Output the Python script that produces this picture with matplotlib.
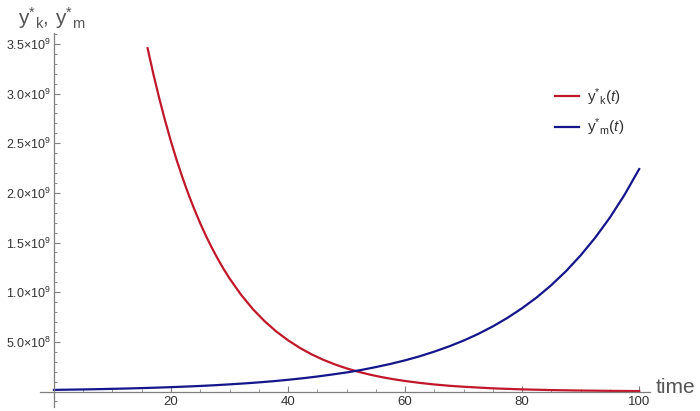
import matplotlib

matplotlib.use("Agg")

import matplotlib.pyplot as plt
from matplotlib.ticker import FuncFormatter, MultipleLocator

# values (units of 1e9)
t_blue = [0, 2.5, 5, 7.5, 10, 12.5, 15, 17.5, 20, 22.5, 25, 27.5, 30, 32.5, 35, 37.5, 40,
          42.5, 45, 47.5, 50, 52.5, 55, 57.5, 60, 62.5, 65, 67.5, 70, 72.5, 75, 77.5, 80,
          82.5, 85, 87.5, 90, 92.5, 95, 97.5, 100]
y_blue = [0.0165, 0.0187, 0.021, 0.0238, 0.027, 0.0305, 0.0345, 0.039, 0.044, 0.0498, 0.056,
          0.0635, 0.072, 0.0815, 0.092, 0.104, 0.118, 0.1335, 0.151, 0.171, 0.192, 0.217,
          0.246, 0.278, 0.314, 0.355, 0.402, 0.454, 0.513, 0.580, 0.656, 0.742, 0.839, 0.948,
          1.072, 1.212, 1.371, 1.550, 1.752, 1.981, 2.24]

t_red = [16, 17, 18, 19, 20, 21, 22, 23, 24, 25, 26, 27, 28, 29, 30, 32, 34, 36, 38, 40, 42,
         44, 46, 48, 50, 52, 54, 56, 58, 60, 62.5, 65, 67.5, 70, 75, 80, 85, 90, 95, 100]
y_red = [3.457, 3.194, 2.951, 2.726, 2.517, 2.325, 2.148, 1.984, 1.833, 1.693, 1.564, 1.445,
         1.335, 1.233, 1.139, 0.972, 0.829, 0.708, 0.604, 0.516, 0.440, 0.375, 0.320, 0.273,
         0.233, 0.199, 0.170, 0.145, 0.124, 0.106, 0.087, 0.071, 0.058, 0.048, 0.032, 0.0216,
         0.0145, 0.0098, 0.0066, 0.0044]

y_ticks = [0.5, 1.0, 1.5, 2.0, 2.5, 3.0, 3.5]
x_ticks = [20, 40, 60, 80, 100]

RED = "#C0182A"
BLUE = "#16168C"
GRAY = "#7F7F7F"
TEXT = "#333333"

plt.rcParams["font.family"] = ["Liberation Sans", "DejaVu Sans"]
plt.rcParams["mathtext.fontset"] = "custom"
plt.rcParams["mathtext.rm"] = "Liberation Sans"
plt.rcParams["mathtext.it"] = "Liberation Sans:italic"

fig = plt.figure(figsize=(7, 4.11), dpi=100)
ax = fig.add_axes([0.057, 0.0097, 0.872, 0.91])

ax.plot(t_red, [v * 1e9 for v in y_red], color=RED, lw=1.6, solid_joinstyle="round",
        label=r"$\mathregular{y^{*}{}_{k}}(t)$")
ax.plot(t_blue, [v * 1e9 for v in y_blue], color=BLUE, lw=1.6, solid_joinstyle="round",
        label=r"$\mathregular{y^{*}{}_{m}}(t)$")

ax.set_xlim(-2.4, 101.9)
ax.set_ylim(-0.156e9, 3.61e9)

for side in ("top", "right"):
    ax.spines[side].set_visible(False)
ax.spines["left"].set_position(("data", 0))
ax.spines["bottom"].set_position(("data", 0))
for side in ("left", "bottom"):
    ax.spines[side].set_color(GRAY)
    ax.spines[side].set_linewidth(0.9)

ax.set_xticks(x_ticks)
ax.xaxis.set_minor_locator(MultipleLocator(5))
ax.set_yticks([v * 1e9 for v in y_ticks])
ax.yaxis.set_minor_locator(MultipleLocator(1e8))


def sci(v, pos):
    m = v / 1e9
    if m >= 1:
        return r"$\mathregular{%.1f{\times}10^{9}}$" % m
    return r"$\mathregular{%.1f{\times}10^{8}}$" % (v / 1e8)


ax.yaxis.set_major_formatter(FuncFormatter(sci))
ax.tick_params(which="both", direction="in", colors=GRAY, labelcolor=TEXT)
ax.tick_params(axis="x", labelsize=9.5)
ax.tick_params(axis="y", labelsize=9, pad=2)
ax.tick_params(which="major", length=4.5, width=0.8)
ax.tick_params(which="minor", length=2.5, width=0.6)

fig.text(0.025, 0.955, r"$\mathregular{y^{*}{}_{k},\, y^{*}{}_{m}}$", fontsize=15,
         color="#555555", va="center", ha="left")
fig.text(0.937, 0.056, "time", fontsize=15, color="#555555", va="center", ha="left")

ax.legend(loc="upper right", bbox_to_anchor=(0.98, 0.895), frameon=False, fontsize=11,
          handlelength=1.6, handletextpad=0.5, labelspacing=0.6, labelcolor=TEXT)

fig.savefig("out.png", dpi=100)
